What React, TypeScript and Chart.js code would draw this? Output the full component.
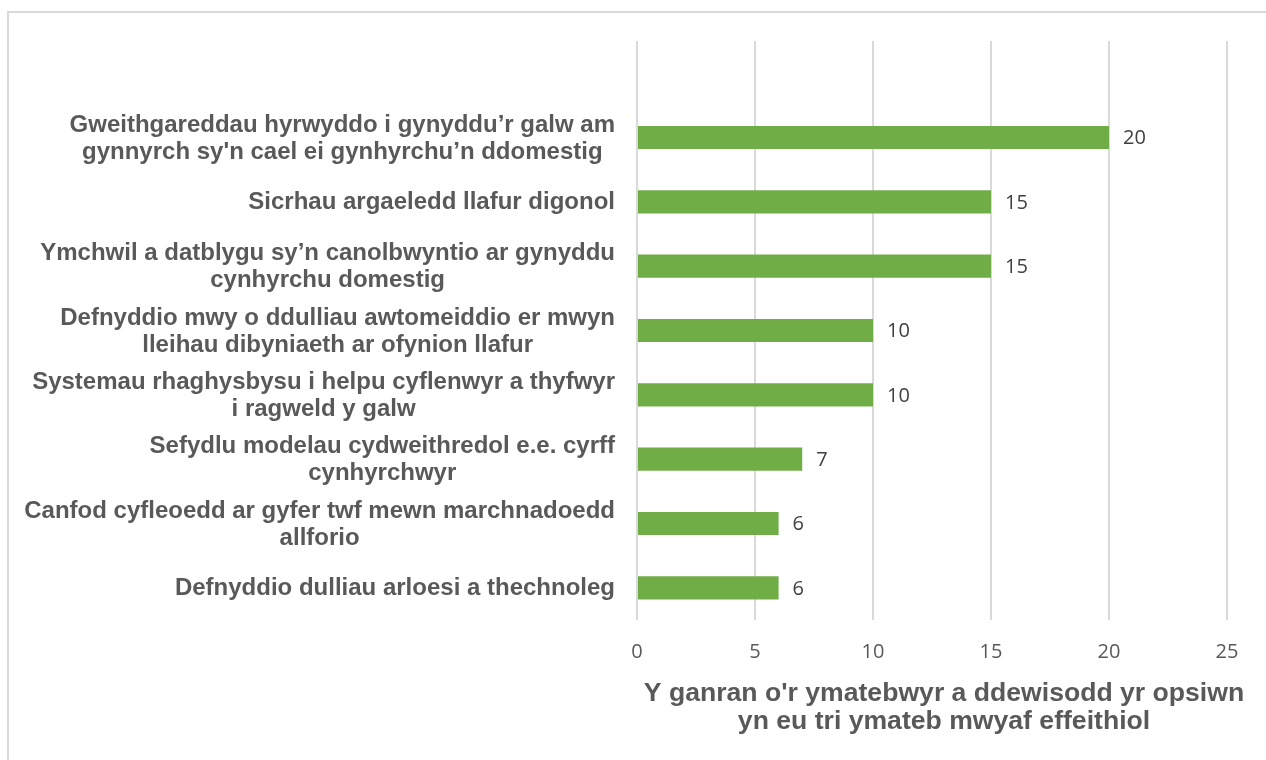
import React, { useEffect, useRef } from "react";
import { Chart, registerables } from "chart.js";

Chart.register(...registerables);

const categories: string[][] = [
  [],
  ["Gweithgareddau hyrwyddo i gynyddu’r galw am", "gynnyrch sy'n cael ei gynhyrchu’n ddomestig"],
  ["Sicrhau argaeledd llafur digonol"],
  ["Ymchwil a datblygu sy’n canolbwyntio ar gynyddu", "cynhyrchu domestig"],
  ["Defnyddio mwy o ddulliau awtomeiddio er mwyn", "lleihau dibyniaeth ar ofynion llafur"],
  ["Systemau rhaghysbysu i helpu cyflenwyr a thyfwyr", "i ragweld y galw"],
  ["Sefydlu modelau cydweithredol e.e. cyrff", "cynhyrchwyr"],
  ["Canfod cyfleoedd ar gyfer twf mewn marchnadoedd", "allforio"],
  ["Defnyddio dulliau arloesi a thechnoleg"],
];

const values: (number | null)[] = [null, 20, 15, 15, 10, 10, 7, 6, 6];

const axisTitle: string[] = [
  "Y ganran o'r ymatebwyr a ddewisodd yr opsiwn",
  "yn eu tri ymateb mwyaf effeithiol",
];

const xMin = 0;
const xMax = 25;
const xStep = 5;

const LABEL_FONT = "bold 24px 'Liberation Sans', Arial, sans-serif";
const TITLE_FONT = "bold 26.6px 'Liberation Sans', Arial, sans-serif";
const NUM_FAMILY = "'Open Sans', sans-serif";

const customText = {
  id: "customText",
  afterDraw(chart: any) {
    const ctx = chart.ctx;
    const y = chart.scales.y;
    const area = chart.chartArea;
    ctx.save();
    // category labels
    ctx.font = LABEL_FONT;
    ctx.fillStyle = "#595959";
    ctx.textAlign = "center";
    ctx.textBaseline = "middle";
    const rightEdge = area.left - 22;
    const lh = 27;
    categories.forEach((lines, i) => {
      if (!lines.length) return;
      const cy = y.getPixelForValue(i);
      const w = Math.max(...lines.map((l) => ctx.measureText(l).width));
      const cx = rightEdge - w / 2;
      lines.forEach((l, k) => {
        ctx.fillText(l, cx, cy - ((lines.length - 1) * lh) / 2 + k * lh + 1);
      });
    });
    // axis title
    ctx.font = TITLE_FONT;
    const tx = (area.left + area.right) / 2 + 12;
    axisTitle.forEach((l, k) => {
      ctx.fillText(l, tx, area.bottom + 74 + k * 28);
    });
    // data labels
    const meta = chart.getDatasetMeta(0);
    ctx.font = `20px ${NUM_FAMILY}`;
    ctx.fillStyle = "#404040";
    ctx.textAlign = "left";
    meta.data.forEach((bar: any, i: number) => {
      const v = values[i];
      if (v == null) return;
      ctx.fillText(String(v), bar.x + 14, bar.y + 1);
    });
    ctx.restore();
  },
};

export default function App() {
  const ref = useRef<HTMLCanvasElement | null>(null);
  useEffect(() => {
    if (!ref.current) return;
    const chart = new Chart(ref.current, {
      type: "bar",
      data: {
        labels: categories.map((c, i) => String(i)),
        datasets: [
          {
            data: values as any,
            backgroundColor: "#70AD47",
            borderWidth: 0,
            categoryPercentage: 1,
            barPercentage: 0.36,
          },
        ],
      },
      options: {
        indexAxis: "y",
        responsive: false,
        animation: false,
        devicePixelRatio: 1,
        layout: { padding: { left: 0, right: 39, top: 41, bottom: 0 } },
        plugins: { legend: { display: false }, tooltip: { enabled: false } },
        scales: {
          x: {
            min: xMin,
            max: xMax,
            ticks: {
              stepSize: xStep,
              color: "#595959",
              font: { family: NUM_FAMILY, size: 20 },
              padding: 20,
            },
            grid: { color: "#d9d9d9", lineWidth: 2, drawTicks: false },
            border: { display: false },
            afterFit(scale: any) {
              scale.height = 140;
            },
          },
          y: {
            ticks: { display: false },
            grid: { display: false },
            border: { display: false },
            afterFit(scale: any) {
              scale.width = 637;
            },
          },
        },
      },
      plugins: [customText],
    });
    return () => chart.destroy();
  }, []);

  return (
    <div
      style={{
        position: "fixed",
        left: 0,
        top: 0,
        width: 1266,
        height: 760,
        overflow: "hidden",
        background: "#fff",
      }}
    >
      <div
        style={{
          position: "absolute",
          left: 7,
          top: 11,
          width: 1300,
          height: 800,
          border: "2px solid #d9d9d9",
          boxSizing: "border-box",
        }}
      />
      <canvas
        ref={ref}
        width={1266}
        height={760}
        style={{ position: "absolute", left: 0, top: 0, width: 1266, height: 760 }}
      />
    </div>
  );
}
